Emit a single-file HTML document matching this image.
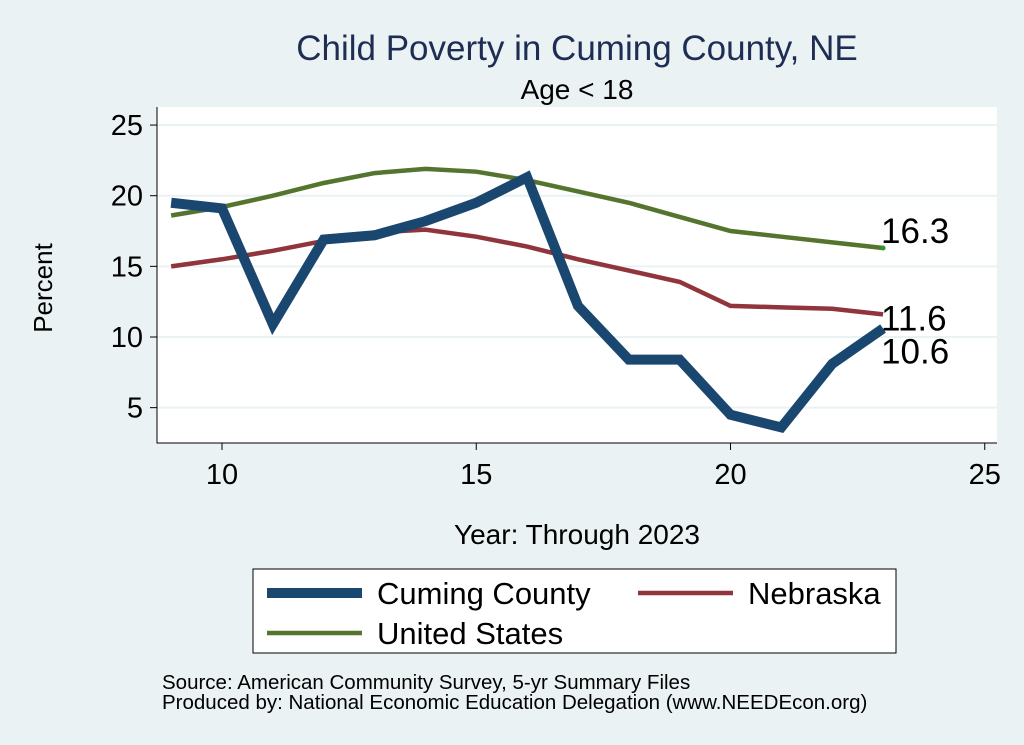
<!DOCTYPE html>
<html><head><meta charset="utf-8"><style>
body{margin:0;background:#eaf2f3;}
svg{display:block;font-family:"Liberation Sans",Arial,sans-serif;}
</style></head><body>
<svg id="chart" width="1024" height="745">
<rect x="0" y="0" width="1024" height="745" fill="#eaf2f3"/>
<text x="577" y="60" font-size="35" fill="#1e2d53" text-anchor="middle">Child Poverty in Cuming County, NE</text>
<text x="577" y="99" font-size="28" fill="#000" text-anchor="middle">Age &lt; 18</text>
<rect x="157" y="107" width="840" height="336" fill="#fff"/>
<g id="grid"></g><g id="axes"></g><g id="series"></g><g id="labels"></g>
<text x="577" y="544" font-size="28" text-anchor="middle">Year: Through 2023</text>
<text transform="translate(52,288) rotate(-90)" font-size="26" text-anchor="middle">Percent</text>
<g>
<rect x="253" y="569" width="643" height="84" fill="#fff" stroke="#000" stroke-width="1"/>
<line x1="267" y1="593" x2="362" y2="593" stroke="#1a476f" stroke-width="10"/>
<text x="377" y="604" font-size="31">Cuming County</text>
<line x1="638" y1="593" x2="733" y2="593" stroke="#90353b" stroke-width="4.5"/>
<text x="748" y="604" font-size="31">Nebraska</text>
<line x1="267" y1="633" x2="362" y2="633" stroke="#55752f" stroke-width="4.5"/>
<text x="377" y="644" font-size="31">United States</text>
</g>
<text x="162" y="689" font-size="20.5">Source: American Community Survey, 5-yr Summary Files</text>
<text x="162" y="709" font-size="20.5">Produced by: National Economic Education Delegation (www.NEEDEcon.org)</text>
</svg>
<script>
const years=[9,10,11,12,13,14,15,16,17,18,19,20,21,22,23];
const cuming=[19.5,19.1,10.9,16.9,17.2,18.2,19.5,21.3,12.2,8.4,8.4,4.5,3.6,8.1,10.6];
const nebraska=[15.0,15.5,16.1,16.8,17.4,17.6,17.1,16.4,15.5,14.7,13.9,12.2,12.1,12.0,11.6];
const us=[18.6,19.2,20.0,20.9,21.6,21.9,21.7,21.1,20.3,19.5,18.5,17.5,17.1,16.7,16.3];
const xTicks=[10,15,20,25];
const yTicks=[5,10,15,20,25];
const NS='http://www.w3.org/2000/svg';
const xs=v=>222+(v-10)*50.85;
const ys=v=>337-(v-10)*14.13;
function mk(t,a,p){const e=document.createElementNS(NS,t);for(const k in a)e.setAttribute(k,a[k]);document.getElementById(p).appendChild(e);return e;}
yTicks.forEach(t=>{
 const g=mk('line',{x1:157,x2:997,y1:ys(t),y2:ys(t),stroke:'#eaf2f3','stroke-width':2},'grid');
 
 
 const tk=mk('line',{x1:150,x2:157,y1:ys(t),y2:ys(t),stroke:'#000'},'axes');
 
 
 const lb=mk('text',{x:143,y:ys(t)+10,'font-size':29,'text-anchor':'end'},'axes');lb.textContent=t;
 
 
});
xTicks.forEach(t=>{
 const tk=mk('line',{x1:xs(t),x2:xs(t),y1:443,y2:450,stroke:'#000'},'axes');
 
 
 const lb=mk('text',{x:xs(t),y:484,'font-size':29,'text-anchor':'middle'},'axes');lb.textContent=t;
 
 
});
const ax=mk('path',{d:'M157 107V443H997',fill:'none',stroke:'#000','stroke-width':1},'axes');


function line(vals,color,w,name){
 const d=vals.map((v,i)=>(i?'L':'M')+xs(years[i])+' '+ys(v)).join('');
 const p=mk('path',{d:d,fill:'none',stroke:color,'stroke-width':w,'stroke-linejoin':'miter'},'series');
 
 
}
line(us,'#55752f',4.5,'us-line');
line(nebraska,'#90353b',4.5,'nebraska-line');
line(cuming,'#1a476f',10,'cuming-line');
const n=years.length-1;
const labs=[[us[n],-5,'us-end-label'],[nebraska[n],16,'nebraska-end-label'],[cuming[n],35,'cuming-end-label']];
labs.forEach(l=>{
 const t=mk('text',{x:xs(years[n])-2,y:ys(l[0])+l[1],'font-size':35},'labels');
 t.textContent=l[0].toFixed(1);
 
 
});
const dot=mk('circle',{cx:xs(years[n]),cy:ys(us[n]),r:2.5,fill:'#2a9a2a'},'labels');


</script>
</body></html>
